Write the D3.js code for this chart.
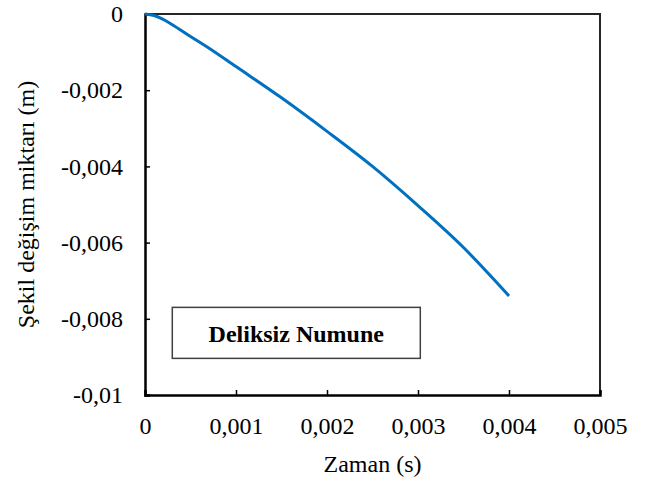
<!DOCTYPE html>
<html>
<head>
<meta charset="utf-8">
<script src="https://cdn.jsdelivr.net/npm/d3@7"></script>
</head>
<body style="margin:0;background:#fff">
<div id="chart"></div>
<script>
// data
var timeValues = [0, 0.0001, 0.0002, 0.0003, 0.0005, 0.0007, 0.001, 0.0015, 0.002, 0.0025, 0.003, 0.0035, 0.004];
var deformValues = [0, -0.00004, -0.00014, -0.00028, -0.00059, -0.00089, -0.00138, -0.0022, -0.00308, -0.0040, -0.00503, -0.00613, -0.0074];
var xTicks = [0, 0.001, 0.002, 0.003, 0.004, 0.005];
var yTicks = [0, -0.002, -0.004, -0.006, -0.008, -0.01];
var legendLabel = "Deliksiz Numune";
var xTitle = "Zaman (s)";
var yTitle = "Şekil değişim miktarı (m)";

var FONT = "Liberation Serif";
var width = 645, height = 483;
var margins = { top: 14, right: 45, bottom: 88, left: 145 };
var chartWidth = width - margins.left - margins.right;
var chartHeight = height - margins.top - margins.bottom;

var fmt = function(d) {
  if (d === 0) return "0";
  return String(+d.toFixed(3)).replace(".", ",");
};

var svg = d3.select("#chart")
  .append("svg")
  .attr("width", width)
  .attr("height", height);

var chartElement = svg.append("g")
  .attr("transform", `translate(${margins.left},${margins.top})`);

var xScale = d3.scaleLinear().domain([0, 0.005]).range([0, chartWidth]);
var yScale = d3.scaleLinear().domain([-0.01, 0]).range([chartHeight, 0]);

// plot border (top + right)
chartElement.append("path")
  .attr("d", `M0,0H${chartWidth}V${chartHeight}`)
  .attr("fill", "none")
  .attr("stroke", "#262626")
  .attr("stroke-width", 2);

// axes, ticks point inward
var xAxis = d3.axisBottom(xScale).tickValues(xTicks).tickSize(-5).tickPadding(22).tickFormat(fmt);
var yAxis = d3.axisLeft(yScale).tickValues(yTicks).tickSize(-5).tickPadding(22).tickFormat(fmt);

var gx = chartElement.append("g")
  .attr("class", "x axis")
  .attr("transform", `translate(0,${chartHeight})`)
  .call(xAxis);

var gy = chartElement.append("g")
  .attr("class", "y axis")
  .call(yAxis);

[gx, gy].forEach(function(g) {
  g.attr("font-family", FONT).attr("font-size", 24);
  g.select(".domain").attr("stroke", "#000").attr("stroke-width", 2.5);
  g.selectAll(".tick line").attr("stroke", "#000").attr("stroke-width", 1.5);
  g.selectAll(".tick text")
    .attr("font-family", FONT)
    .attr("font-size", 24)
    .attr("fill", "#000");
});
gx.selectAll(".tick text").attr("dy", "0.71em");

// line
var data = timeValues.map(function(t, i) { return { t: t, v: deformValues[i] }; });
var line = d3.line()
  .x(d => xScale(d.t))
  .y(d => yScale(d.v))
  .curve(d3.curveMonotoneX);

chartElement.append("path")
  .datum(data)
  .attr("fill", "none")
  .attr("stroke", "#0070C0")
  .attr("stroke-width", 3)
  .attr("d", line);

// legend box
var legend = chartElement.append("g")
  .attr("transform", `translate(${xScale(0.0003)},${yScale(-0.0077)})`);

legend.append("rect")
  .attr("width", 248)
  .attr("height", 51)
  .attr("fill", "#fff")
  .attr("stroke", "#404040")
  .attr("stroke-width", 1.5);

legend.append("text")
  .attr("x", 124)
  .attr("y", 35)
  .attr("text-anchor", "middle")
  .attr("font-family", FONT)
  .attr("font-size", 24)
  .attr("font-weight", "bold")
  .text(legendLabel);

// axis titles
svg.append("text")
  .attr("x", margins.left + chartWidth / 2)
  .attr("y", 472)
  .attr("text-anchor", "middle")
  .attr("font-family", FONT)
  .attr("font-size", 24)
  .text(xTitle);

svg.append("text")
  .attr("transform", `translate(34,${margins.top + chartHeight / 2}) rotate(-90)`)
  .attr("text-anchor", "middle")
  .attr("font-family", FONT)
  .attr("font-size", 24)
  .text(yTitle);
</script>
</body>
</html>
